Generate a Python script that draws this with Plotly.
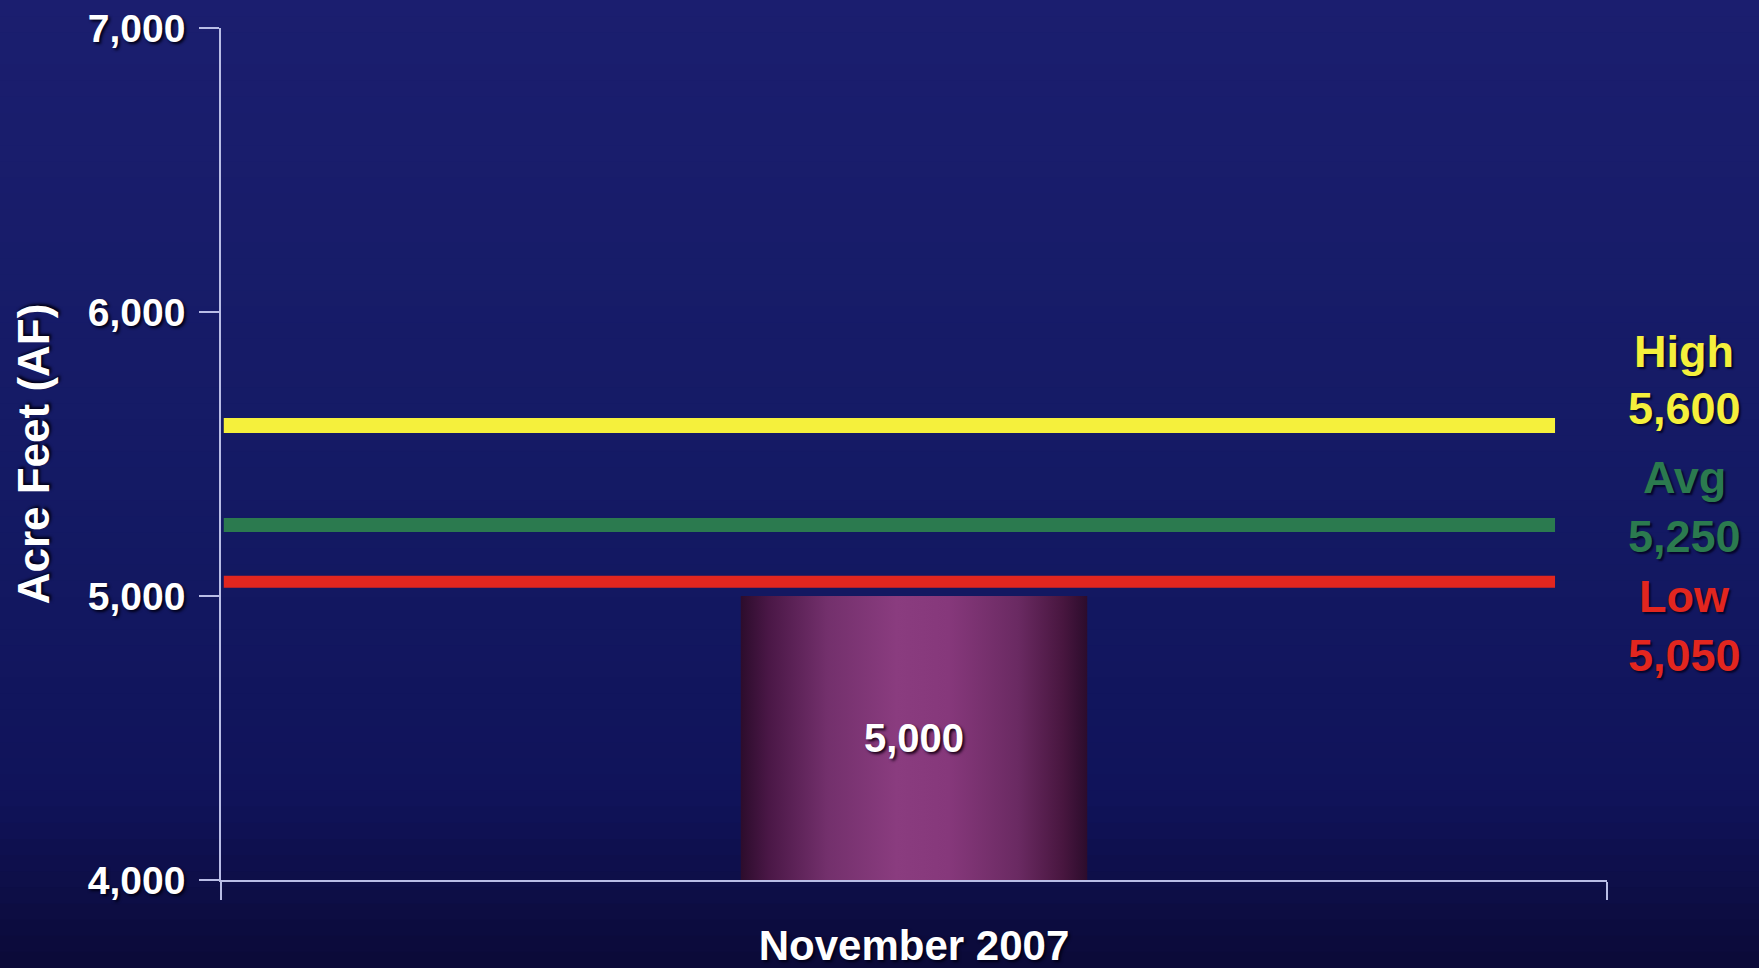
import plotly.graph_objects as go

# ---- data ----
categories = ["November 2007"]
actual_af = [5000]
ref_names = ["High", "Avg", "Low"]
ref_values = [5600, 5250, 5050]
y_ticks = [4000, 5000, 6000, 7000]

# ---- styles ----
ref_colors = ["#f5f03c", "#2b7a4f", "#e2261f"]
ref_widths = [15, 14, 12]
W, H = 1759, 968
ML, MR, MT, MB = 221, 152, 28, 88
PW, PH = W - ML - MR, H - MT - MB

fig = go.Figure()

# background vertical gradient (paper-wide bands)
def lerp(c1, c2, t):
    a = [int(c1[i:i + 2], 16) for i in (1, 3, 5)]
    b = [int(c2[i:i + 2], 16) for i in (1, 3, 5)]
    return "#%02x%02x%02x" % tuple(round(a[k] + (b[k] - a[k]) * t) for k in range(3))

stops = [(0.0, "#1b1e6f"), (0.5, "#141a64"), (0.82, "#10135a"), (1.0, "#0b0a37")]
N = 60
x0p, x1p = -ML / PW - 0.01, 1 + MR / PW + 0.01
for i in range(N):
    t = (i + 0.5) / N
    for j in range(len(stops) - 1):
        if stops[j][0] <= t <= stops[j + 1][0]:
            tt = (t - stops[j][0]) / (stops[j + 1][0] - stops[j][0])
            col = lerp(stops[j][1], stops[j + 1][1], tt)
            break
    ytop_px = i * H / N - (3 if i == 0 else 0)
    ybot_px = (i + 1) * H / N + (3 if i == N - 1 else 1)
    fig.add_shape(type="rect", xref="paper", yref="paper", layer="below",
                  x0=x0p, x1=x1p,
                  y0=(H - MB - ybot_px) / PH, y1=(H - MB - ytop_px) / PH,
                  line=dict(width=0), fillcolor=col)

# bar with horizontal gradient
bar_w = 0.25
ymin = y_ticks[0]
for i, (cat, v) in enumerate(zip(categories, actual_af)):
    c = i
    fig.add_trace(go.Scatter(
        x=[c - bar_w / 2, c + bar_w / 2, c + bar_w / 2, c - bar_w / 2, c - bar_w / 2],
        y=[ymin, ymin, v, v, ymin],
        mode="lines", line=dict(width=0), fill="toself",
        fillgradient=dict(type="horizontal", colorscale=[
            [0.0, "#2c0c2c"], [0.08, "#4a1746"], [0.25, "#73306c"],
            [0.45, "#8a3c7f"], [0.6, "#86387b"], [0.8, "#6a2a62"], [0.93, "#48163f"],
            [1.0, "#2c0c2c"]]),
        hoverinfo="skip", showlegend=False))
    fig.add_annotation(x=c, y=(ymin + v) / 2, xref="x", yref="y",
                       text=f"{v:,}", showarrow=False,
                       font=dict(family="Liberation Sans, Arial", size=40, color="white",
                                 weight="bold", shadow="2px 2px 3px #1a0018"))

# reference lines
for name, v, col, lw in zip(ref_names, ref_values, ref_colors, ref_widths):
    fig.add_trace(go.Scatter(x=[-0.498, 0.4625], y=[v, v], mode="lines",
                             line=dict(color=col, width=lw), name=name,
                             hoverinfo="skip", showlegend=False))

# right-side labels
label_px = [(351, 409), (477, 536), (596, 655)]
for name, v, col, (p1, p2) in zip(ref_names, ref_values, ref_colors, label_px):
    for txt, py in ((name, p1), (f"{v:,}", p2)):
        fig.add_annotation(xref="paper", yref="paper", x=(1684 - ML) / PW,
                           y=(H - MB - py) / PH, text=txt, showarrow=False,
                           xanchor="center", yanchor="middle",
                           font=dict(family="Liberation Sans, Arial", size=45,
                                     color=col, weight="bold",
                                     shadow="2px 2px 2px #05052a"))

axis_col = "#b9bde6"
fig.update_layout(
    width=W, height=H,
    margin=dict(l=ML, r=MR, t=MT, b=MB, autoexpand=False),
    paper_bgcolor="#0b0a37",
    plot_bgcolor="rgba(0,0,0,0)",
    showlegend=False,
    xaxis=dict(range=[-0.5, 0.5], tickvals=list(range(len(categories))),
               ticktext=categories, ticks="", showgrid=False, zeroline=False,
               showline=True, linecolor=axis_col, linewidth=1.5,
               ticklabelstandoff=28, automargin=False,
               minor=dict(tickvals=[-0.5, 0.5], ticks="outside", ticklen=18,
                          tickcolor=axis_col, tickwidth=1.5),
               tickfont=dict(family="Liberation Sans, Arial", size=42, color="white",
                             weight="bold", shadow="2px 2px 3px #000018"),
               fixedrange=True),
    yaxis=dict(range=[y_ticks[0], y_ticks[-1]], tickvals=y_ticks, tickformat=",",
               ticks="outside", ticklen=20, tickcolor=axis_col, tickwidth=1.5,
               showline=True, linecolor=axis_col, linewidth=1.5,
               showgrid=False, zeroline=False, ticklabelstandoff=6,
               automargin=False,
               tickfont=dict(family="Liberation Sans, Arial", size=39, color="white",
                             weight="bold", shadow="2px 2px 3px #000018"),
               title=dict(text="Acre Feet (AF)", standoff=24,
                          font=dict(family="Liberation Sans, Arial", size=44,
                                    color="white", weight="bold",
                                    shadow="2px 2px 3px #000018")),
               fixedrange=True),
)

fig.write_html("out.html", config={"displayModeBar": False},
               post_script="document.body.style.margin='0';document.body.style.overflow='hidden';document.body.style.background='#0b0a37';")
